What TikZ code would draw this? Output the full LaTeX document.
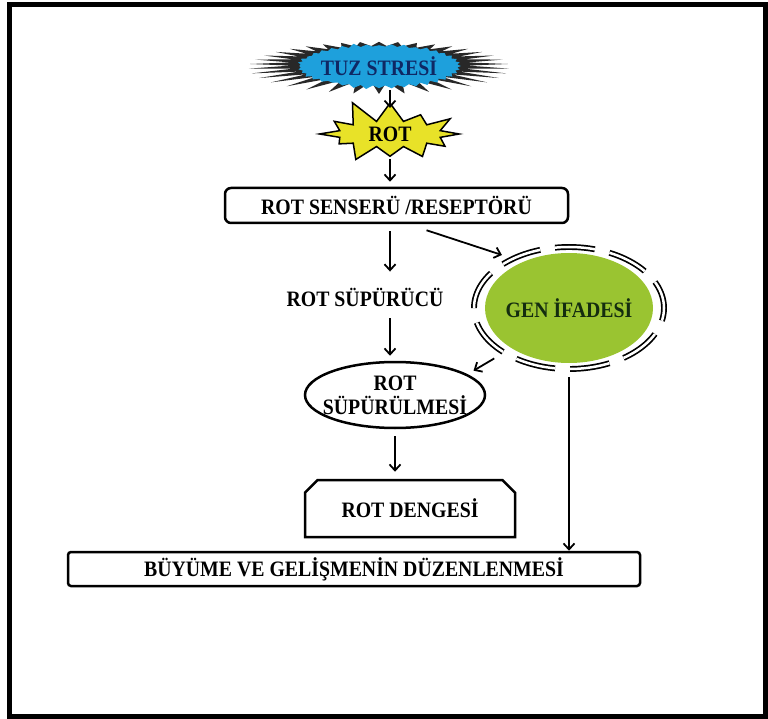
\documentclass[tikz,border=0pt]{standalone}
\usepackage{fontspec}
\setmainfont{Liberation Serif}[FakeStretch=0.9]
\usetikzlibrary{shapes, arrows.meta}

\definecolor{tuzblue}{RGB}{30,160,220}
\definecolor{tuzdark}{RGB}{40,40,40}
\definecolor{tuzink}{RGB}{15,40,100}
\definecolor{rotyellow}{RGB}{232,226,40}
\definecolor{genleaf}{RGB}{154,196,49}
\definecolor{genink}{RGB}{20,45,15}

% zero-width label, so the shape keeps its own size
\newcommand{\nw}[1]{\makebox[0pt]{#1}}

\begin{document}
\begin{tikzpicture}[x=1pt, y=-1pt,
  every node/.style={font=\fontsize{22}{24}\selectfont\bfseries},
  arr/.style={line width=1.8pt, -{Straight Barb[length=6pt,width=11pt]}},
  panel/.style={draw, line width=2.5pt, inner sep=0pt}]
	\useasboundingbox (0,0) rectangle (768,719);
	% outer frame
	\draw[line width=5pt] (9.5,4.5) rectangle (765.5,716.5);
	
	% salt stress burst: dark spikes, then the blue blob on top
	\fill[tuzdark, shift={(379,64)}] plot[domain=0:360, samples=73, variable=\t]
	     ({148*cos(\t)*((mod(round(\t/5),2)==0) ? (0.87+0.13*sin(37*\t)) : 0.6)},
	      {30*sin(\t)*((mod(round(\t/5),2)==0) ? (0.87+0.13*sin(37*\t)) : 0.6)}) -- cycle;
	\node[starburst, fill=tuzblue, text=tuzink, starburst points=40, starburst point height=4pt,
	      random starburst=3, minimum width=165pt, minimum height=47pt, inner sep=0pt] (tuz) at (379,66) {\nw{TUZ STRESİ}};
	\node[starburst, draw, line width=1.5pt, fill=rotyellow, starburst points=12, starburst point height=24pt,
	      random starburst=11, minimum width=152pt, minimum height=74pt, inner sep=0pt] (rot) at (390,134) {\nw{ROT}};
	
	% sensing and scavenging
	\node[panel, rounded corners=6pt, minimum width=343pt, minimum height=35pt] (sensor) at (396.5,205.5) {ROT SENSERÜ /RESEPTÖRÜ};
	\node[inner sep=0pt] (scav) at (365,297) {ROT SÜPÜRÜCÜ};
	\node[panel, ellipse, minimum width=180pt, minimum height=66pt, align=center] (scavenge) at (395,395) {\nw{ROT}\\\nw{SÜPÜRÜLMESİ}};
	
	% gene expression
	\node[ellipse, fill=genleaf, text=genink, minimum width=168pt, minimum height=110pt, inner sep=0pt] (gen) at (569,308) {\nw{GEN İFADESİ}};
	\draw[double, line width=1.7pt, double distance=2.5pt, dash pattern=on 40pt off 15pt, dash phase=12pt]
	     (gen.center) ellipse [x radius=95pt, y radius=61pt];
	
	% outputs
	\node[panel, chamfered rectangle, chamfered rectangle corners={north west,north east},
	      chamfered rectangle xsep=10pt, minimum width=210pt, minimum height=57pt] (balance) at (410,508.5) {ROT DENGESİ};
	\node[panel, rounded corners=3pt, minimum width=572pt, minimum height=34pt] (growth) at (354,569) {BÜYÜME VE GELİŞMENİN DÜZENLENMESİ};
	
	% arrows
	\draw[arr, shorten <=2pt, shorten >=-6pt] (tuz.south -| rot.north) -- (rot.north);
	\draw[arr, shorten <=2pt, shorten >=5pt] (rot.south) -- (rot.south |- sensor.north);
	\draw[arr, shorten <=7pt, shorten >=16pt] (sensor.south -| rot.south) -- (rot.south |- scav.north);
	\draw[arr, shorten <=12pt, shorten >=5pt] (scav.south -| rot.south) -- (rot.south |- scavenge.north);
	\draw[arr, shorten <=7pt, shorten >=7pt] (scavenge.south) -- (scavenge.south |- balance.north);
	\draw[arr, shorten >=22pt] ([xshift=30pt, yshift=-6pt]sensor.south) -- (gen.135);
	\draw[arr, shorten <=20pt, shorten >=7pt] (gen.215) -- (scavenge.16);
	\draw[arr, shorten <=14pt] (gen.south) -- (gen.south |- growth.north);
\end{tikzpicture}
\end{document}
